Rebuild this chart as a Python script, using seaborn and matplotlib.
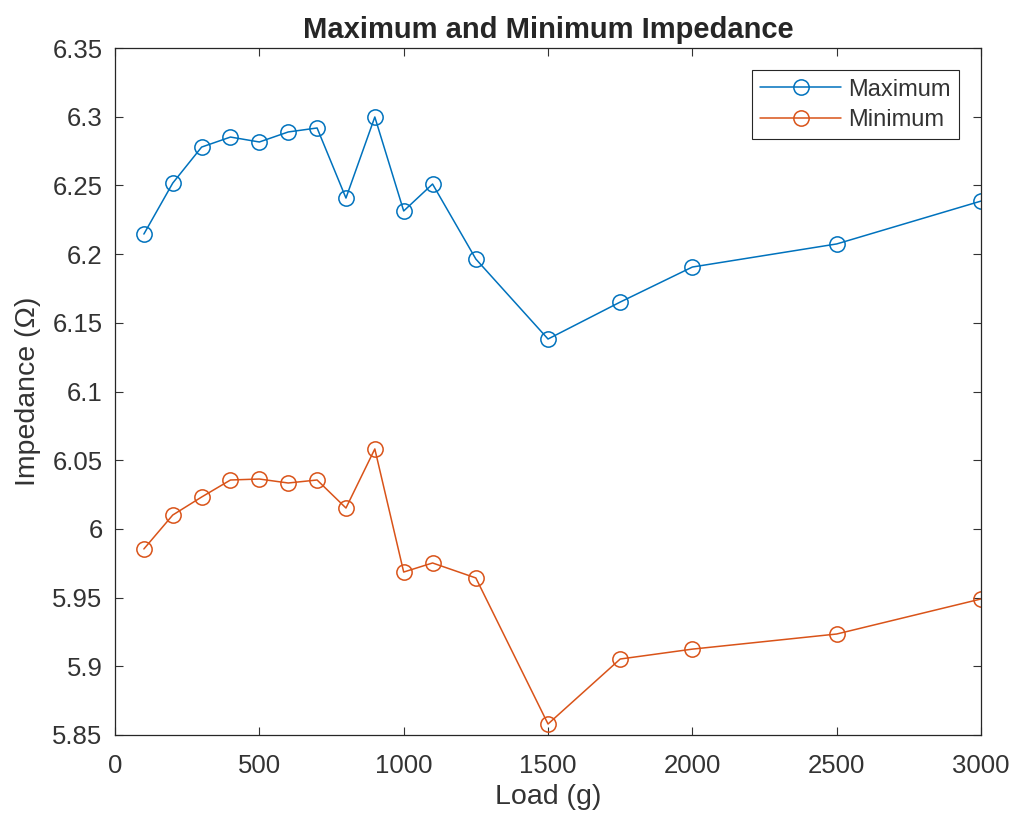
import matplotlib
matplotlib.use("Agg")
import matplotlib.pyplot as plt
import seaborn as sns
import pandas as pd

load_g = [100, 200, 300, 400, 500, 600, 700, 800, 900, 1000, 1100, 1250,
          1500, 1750, 2000, 2500, 3000]
max_impedance = [6.2146, 6.2517, 6.2779, 6.2852, 6.2816, 6.2889, 6.2918, 6.2408,
                 6.2998, 6.2314, 6.2510, 6.1964, 6.1382, 6.1651, 6.1906, 6.2074, 6.2386]
min_impedance = [5.9854, 6.0101, 6.0232, 6.0356, 6.0363, 6.0334, 6.0356, 6.0152,
                 6.0582, 5.9686, 5.9752, 5.9643, 5.8580, 5.9053, 5.9125, 5.9235, 5.9490]
x_ticks = [0, 500, 1000, 1500, 2000, 2500, 3000]
y_ticks = [5.85, 5.9, 5.95, 6.0, 6.05, 6.1, 6.15, 6.2, 6.25, 6.3, 6.35]

sns.set_style("white")
plt.rcParams['font.family'] = ['Liberation Sans', 'DejaVu Sans']
plt.rcParams['xtick.direction'] = 'in'
plt.rcParams['ytick.direction'] = 'in'

df_max = pd.DataFrame({'load': load_g, 'imp': max_impedance})
df_min = pd.DataFrame({'load': load_g, 'imp': min_impedance})

fig = plt.figure(figsize=(10.16, 8.25), dpi=100)
ax = fig.add_axes([0.1132, 0.1091, 0.8524, 0.8327])

blue = '#0072BD'
orange = '#D95319'
sns.lineplot(data=df_max, x='load', y='imp', ax=ax, color=blue, lw=1.1,
             marker='o', markersize=11, markerfacecolor='none',
             markeredgecolor=blue, markeredgewidth=1.1, label='Maximum')
sns.lineplot(data=df_min, x='load', y='imp', ax=ax, color=orange, lw=1.1,
             marker='o', markersize=11, markerfacecolor='none',
             markeredgecolor=orange, markeredgewidth=1.1, label='Minimum')

ax.set_xlim(0, 3000)
ax.set_ylim(5.85, 6.35)
ax.set_xticks(x_ticks)
ax.set_yticks(y_ticks)
ax.set_yticklabels([f'{v:g}' for v in y_ticks])
ax.tick_params(colors='#333333', labelsize=18.5, length=6, width=0.8,
               top=True, right=True, bottom=True, left=True)
ax.tick_params(axis='x', pad=14)
ax.tick_params(axis='y', pad=9)
for s in ax.spines.values():
    s.set_color('#262626')
    s.set_linewidth(0.9)

ax.set_xlabel('Load (g)', fontsize=20.5, color='#333333', labelpad=4)
ax.set_ylabel('Impedance (Ω)', fontsize=20.5, color='#333333', labelpad=8)
ax.set_title('Maximum and Minimum Impedance', fontsize=21, fontweight='bold', pad=7)

leg = ax.legend(loc='upper right', fontsize=17, fancybox=False, framealpha=1,
                edgecolor='#262626', borderaxespad=0.95, handlelength=3.4,
                handletextpad=0.3, labelspacing=0.36, borderpad=0.35)
leg.get_frame().set_linewidth(0.8)
for t in leg.get_texts():
    t.set_color('#333333')

fig.savefig('out.png', dpi=100)
plt.close(fig)
